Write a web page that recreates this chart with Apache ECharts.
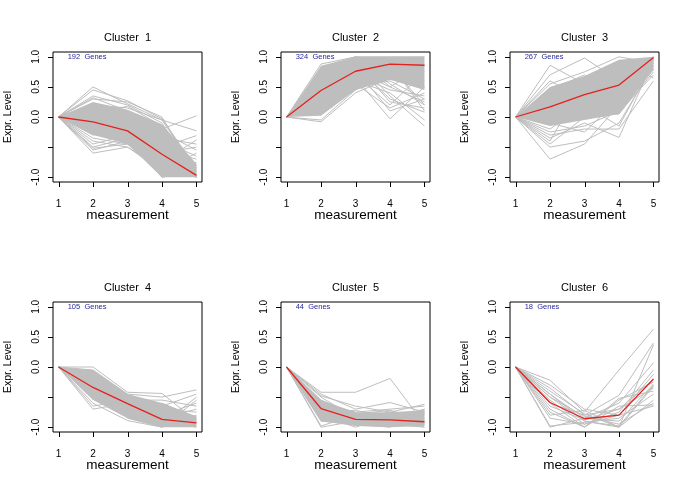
<!DOCTYPE html>
<html>
<head>
<meta charset="utf-8">
<script src="https://cdn.jsdelivr.net/npm/echarts@6/dist/echarts.min.js"></script>
<style>
  html, body { margin: 0; padding: 0; background: #fff; }
  #chart { width: 685px; height: 498px; }
</style>
</head>
<body>
<div id="chart"></div>
<script>
// profiles (values clipped to [-1, 1] like the original)
const measurements = [1, 2, 3, 4, 5];
const clusterNames = ["Cluster  1", "Cluster  2", "Cluster  3", "Cluster  4", "Cluster  5", "Cluster  6"];
const geneCounts = [192, 324, 267, 105, 44, 18];
const yTicks = [-1, -0.5, 0, 0.5, 1];
const yTickLabels = [-1, 0, 0.5, 1];

const meanProfiles = [
  [0, -0.08, -0.23, -0.62, -0.97],
  [0, 0.44, 0.76, 0.88, 0.86],
  [0, 0.17, 0.37, 0.53, 0.99],
  [0, -0.34, -0.61, -0.87, -0.93],
  [0, -0.69, -0.87, -0.88, -0.91],
  [0, -0.59, -0.86, -0.80, -0.20]
];

// dense core of the many overlapping gray lines (null = draw lines only)
const coreHigh = [
  [0, 0.25, 0.12, -0.12, -0.78],
  [0, 0.85, 1.0, 1.0, 1.0],
  [0, 0.5, 0.68, 0.95, 1.0],
  [0, -0.05, -0.45, -0.6, -0.82],
  [0, -0.55, -0.75, -0.75, -0.72],
  null
];
const coreLow = [
  [0, -0.3, -0.45, -1.0, -1.0],
  [0, 0.02, 0.45, 0.62, 0.45],
  [0, -0.15, -0.05, 0.05, 0.78],
  [0, -0.55, -0.85, -1.0, -1.0],
  [0, -0.9, -0.98, -1.0, -0.98],
  null
];

const grayCluster1 = [
  [0, 0.5, 0.22, -0.05, -0.9],
  [0, 0.45, 0.27, -0.03, -0.85],
  [0, 0.35, 0.2, -0.1, -1.0],
  [0, 0.3, 0.25, 0.0, -0.95],
  [0, 0.32, 0.1, -0.2, 0.02],
  [0, 0.2, 0.15, -0.05, -0.23],
  [0, 0.1, -0.1, -0.5, -0.31],
  [0, -0.05, -0.2, -0.6, -0.5],
  [0, -0.35, -0.45, -0.75, -0.38],
  [0, -0.4, -0.5, -0.9, -0.6],
  [0, -0.5, -0.35, -0.55, -0.7],
  [0, -0.55, -0.4, -1.0, -0.85],
  [0, -0.6, -0.5, -0.85, -1.0],
  [0, -0.45, -0.3, -0.7, -0.95],
  [0, -0.3, -0.2, -0.4, -0.65],
  [0, 0.15, 0.05, -0.3, -0.8],
  [0, 0.0, -0.1, -0.8, -1.0],
  [0, -0.15, -0.4, -1.0, -0.9],
  [0, 0.22, -0.05, -0.35, -0.45],
  [0, -0.52, -0.45, -0.95, -0.75],
  [0, 0.05, 0.18, -0.15, -1.0],
  [0, -0.25, 0.05, -0.25, -0.55]
];
const grayCluster2 = [
  [0, 0.88, 1.0, 1.0, 1.0],
  [0, -0.05, 0.45, 0.7, 0.5],
  [0, -0.08, 0.4, 0.65, 0.6],
  [0, 0.3, 0.65, -0.03, 0.5],
  [0, 0.5, 0.8, 0.1, 0.3],
  [0, 0.4, 0.7, 0.2, 0.75],
  [0, 0.6, 0.9, 0.25, 0.15],
  [0, 0.7, 0.95, 0.35, -0.15],
  [0, 0.2, 0.6, 0.4, -0.05],
  [0, 0.55, 0.85, 0.3, 0.08],
  [0, 0.45, 0.75, 0.5, 0.25],
  [0, 0.35, 0.7, 0.45, 0.35],
  [0, 0.65, 1.0, 0.55, 0.2],
  [0, 0.25, 0.5, 0.6, 0.3],
  [0, 0.8, 1.0, 0.5, 0.85],
  [0, 0.1, 0.55, 0.15, 0.4],
  [0, 0.75, 1.0, 0.9, 0.1],
  [0, 0.15, 0.45, 0.85, 0.2]
];
const grayCluster3 = [
  [0, 0.86, 0.55, 0.7, 1.0],
  [0, 0.7, 0.98, 0.6, 0.95],
  [0, 0.55, 0.75, 1.0, 0.9],
  [0, -0.7, -0.45, 0.2, 0.8],
  [0, -0.5, -0.4, -0.1, 0.85],
  [0, -0.45, 0.0, 0.05, 0.75],
  [0, -0.35, -0.1, -0.34, 0.95],
  [0, -0.3, -0.2, -0.2, 0.6],
  [0, -0.25, -0.15, 0.1, 0.7],
  [0, -0.4, 0.6, 0.4, 1.0],
  [0, -0.2, 0.2, -0.15, 0.9],
  [0, 0.35, 0.1, 0.15, 0.85],
  [0, 0.6, 0.3, 0.5, 0.78],
  [0, -0.1, -0.25, 0.3, 1.0],
  [0, 0.45, 0.7, 0.2, 0.98],
  [0, 0.15, 0.5, 0.9, 0.65]
];
const grayCluster4 = [
  [0, 0.0, -0.42, -0.44, -0.9],
  [0, -0.05, -0.45, -0.5, -0.38],
  [0, -0.7, -0.6, -0.95, -0.5],
  [0, -0.65, -0.55, -0.8, -0.6],
  [0, -0.6, -0.89, -1.0, -0.55],
  [0, -0.1, -0.5, -0.65, -0.45],
  [0, -0.4, -0.8, -0.85, -0.7],
  [0, -0.2, -0.55, -0.55, -0.65],
  [0, -0.5, -0.7, -0.7, -0.75],
  [0, -0.3, -0.85, -1.0, -0.8],
  [0, -0.15, -0.5, -0.9, -1.0],
  [0, -0.45, -0.75, -0.6, -0.85]
];
const grayCluster5 = [
  [0, -0.42, -0.42, -0.19, -0.95],
  [0, -0.45, -0.7, -0.59, -0.75],
  [0, -0.48, -0.65, -0.75, -0.62],
  [0, -1.0, -0.9, -0.85, -0.7],
  [0, -0.98, -0.8, -0.9, -0.8],
  [0, -0.9, -0.95, -1.0, -0.75],
  [0, -0.6, -0.75, -0.7, -0.65],
  [0, -0.55, -0.8, -0.95, -1.0],
  [0, -0.8, -1.0, -0.8, -0.9],
  [0, -0.7, -0.85, -0.75, -0.85],
  [0, -0.65, -0.9, -0.95, -0.7],
  [0, -0.85, -0.95, -0.9, -0.95],
  [0, -0.75, -0.72, -0.85, -1.0],
  [0, -0.5, -0.85, -0.8, -0.72],
  [0, -0.88, -0.78, -0.72, -0.88],
  [0, -0.62, -0.97, -0.98, -0.78]
];
const grayCluster6 = [
  [0, -0.22, -0.75, -0.05, 0.63],
  [0, -0.35, -0.8, -0.47, 0.40],
  [0, -0.5, -0.9, -1.0, 0.37],
  [0, -0.45, -0.85, -0.6, 0.07],
  [0, -0.55, -0.95, -0.75, -0.05],
  [0, -0.3, -0.7, -0.8, -0.12],
  [0, -0.6, -1.0, -0.55, -0.25],
  [0, -1.0, -0.85, -0.9, -0.28],
  [0, -0.4, -0.78, -1.0, -0.32],
  [0, -0.65, -0.88, -0.7, -0.35],
  [0, -0.7, -1.0, -0.52, -0.4],
  [0, -0.98, -0.92, -0.85, -0.45],
  [0, -0.8, -0.72, -1.0, -0.55],
  [0, -0.5, -0.82, -0.95, -0.6],
  [0, -0.75, -1.0, -0.65, -0.63],
  [0, -0.85, -0.95, -0.8, -0.65],
  [0, -0.45, -0.9, -0.98, -0.3],
  [0, -0.6, -0.8, -0.7, -0.2]
];
const grayProfiles = [grayCluster1, grayCluster2, grayCluster3, grayCluster4, grayCluster5, grayCluster6];

const font = '"Liberation Sans", Arial, Helvetica, sans-serif';
const xMin = 0.84, xMax = 5.16, yMin = -1.08, yMax = 1.08;
const boxLeft = [53, 281, 510];
const boxTop = [52, 302];
const boxW = 149, boxH = 130;
const tickLen = 5;

const grids = [], xAxes = [], yAxes = [], series = [], graphics = [];

clusterNames.forEach((name, i) => {
  const left = boxLeft[i % 3];
  const top = boxTop[Math.floor(i / 3)];

  grids.push({
    left, top, width: boxW, height: boxH,
    show: true, borderColor: "#000", borderWidth: 1, backgroundColor: "transparent"
  });

  xAxes.push({
    gridIndex: i, type: "value", min: xMin, max: xMax, position: "bottom",
    name: "measurement", nameLocation: "middle", nameGap: 26, nameMoveOverlap: false,
    nameTextStyle: { fontSize: 13.5, color: "#000", fontFamily: font },
    axisLine: { show: false, onZero: false },
    splitLine: { show: false },
    axisTick: { show: false },
    axisLabel: { customValues: measurements, margin: 17, fontSize: 10, color: "#000", fontFamily: font }
  });

  yAxes.push({
    gridIndex: i, type: "value", min: yMin, max: yMax, position: "left",
    name: "Expr. Level", nameLocation: "middle", nameGap: 39, nameMoveOverlap: false,
    nameTextStyle: { fontSize: 10.5, color: "#000", fontFamily: font },
    axisLine: { show: false, onZero: false },
    splitLine: { show: false },
    axisTick: { show: false },
    axisLabel: {
      customValues: yTickLabels, rotate: 90, margin: 12, fontSize: 10, color: "#000", fontFamily: font,
      formatter: v => Number(v).toFixed(1)
    }
  });

  // tick marks outside the box, placed through the axis scales
  series.push({
    type: "custom", xAxisIndex: i, yAxisIndex: i, silent: true, z: 6, clip: false,
    data: measurements.map(m => [m, yMin]),
    renderItem: (params, api) => {
      const p = api.coord([api.value(0), api.value(1)]);
      const x = Math.round(p[0]) + 0.5, y = Math.round(p[1]);
      return { type: "line", shape: { x1: x, y1: y, x2: x, y2: y + tickLen }, style: { stroke: "#000", lineWidth: 1 } };
    }
  });
  series.push({
    type: "custom", xAxisIndex: i, yAxisIndex: i, silent: true, z: 6, clip: false,
    data: yTicks.map(v => [xMin, v]),
    renderItem: (params, api) => {
      const p = api.coord([api.value(0), api.value(1)]);
      const x = Math.round(p[0]), y = Math.round(p[1]) + 0.5;
      return { type: "line", shape: { x1: x - tickLen, y1: y, x2: x, y2: y }, style: { stroke: "#000", lineWidth: 1 } };
    }
  });

  if (coreHigh[i]) {
    series.push({
      type: "custom", xAxisIndex: i, yAxisIndex: i, data: [[1, 0]], silent: true, z: 1,
      renderItem: (params, api) => {
        const hi = coreHigh[i], lo = coreLow[i];
        const pts = [];
        measurements.forEach((m, k) => pts.push(api.coord([m, hi[k]])));
        for (let k = measurements.length - 1; k >= 0; k--) pts.push(api.coord([measurements[k], lo[k]]));
        return { type: "polygon", shape: { points: pts }, style: { fill: "#bebebe" } };
      }
    });
  }

  grayProfiles[i].forEach(p => {
    series.push({
      type: "line", xAxisIndex: i, yAxisIndex: i, silent: true, z: 2,
      data: p.map((v, k) => [measurements[k], v]),
      symbol: "none", lineStyle: { color: "#bebebe", width: 1 }
    });
  });

  series.push({
    type: "line", xAxisIndex: i, yAxisIndex: i, silent: true, z: 5,
    data: meanProfiles[i].map((v, k) => [measurements[k], v]),
    symbol: "none", lineStyle: { color: "#e3221e", width: 1.3 }
  });

  graphics.push({
    type: "text", x: left + boxW / 2, y: top - 14,
    style: { text: name, font: "11px " + font, fill: "#000", textAlign: "center", textVerticalAlign: "middle" }
  });
  graphics.push({
    type: "text", x: left + 14.7, y: top + 5.3,
    style: { text: geneCounts[i] + "  Genes", font: "7.5px " + font, fill: "#2a2a9a", textAlign: "left", textVerticalAlign: "middle" }
  });
});

const myChart = echarts.init(document.getElementById("chart"), null, { renderer: "canvas" });
myChart.setOption({
  animation: false,
  backgroundColor: "#fff",
  grid: grids,
  xAxis: xAxes,
  yAxis: yAxes,
  series: series,
  graphic: graphics
});
</script>
</body>
</html>
